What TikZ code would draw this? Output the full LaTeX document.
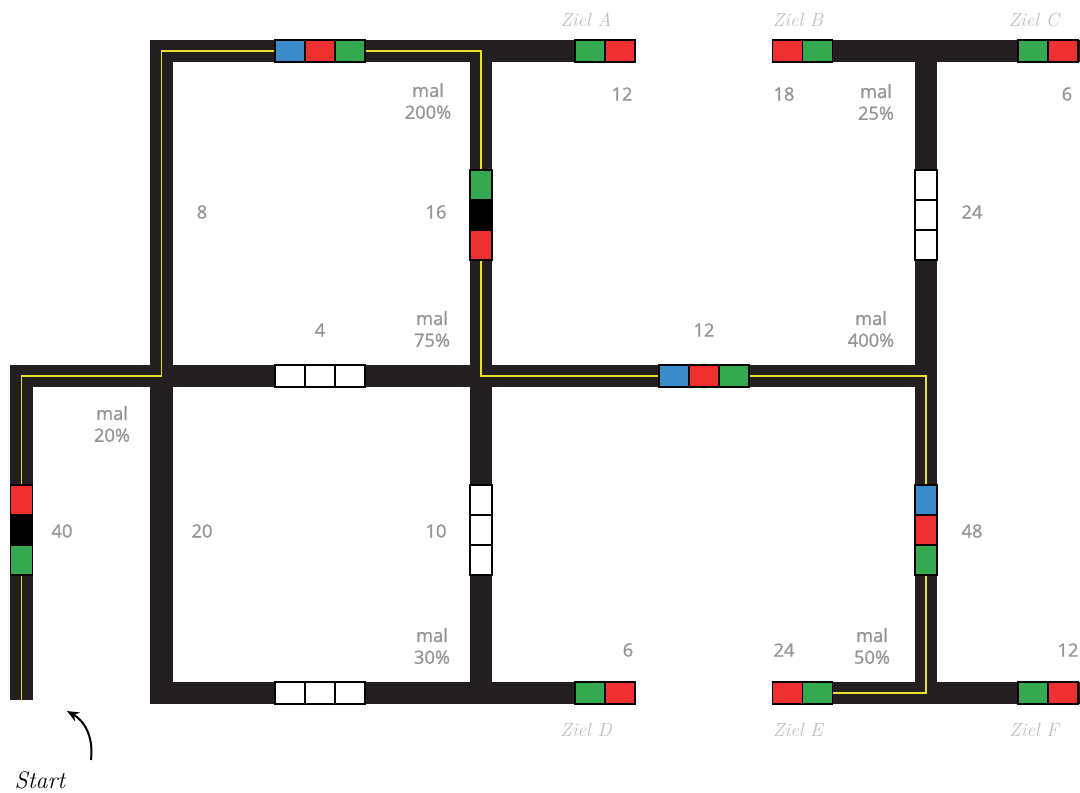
\documentclass[tikz,border=0pt]{standalone}
\usepackage{fontspec}
\IfFontExistsTF{Open Sans SemiBold}
  {\newfontfamily\numfont{Open Sans SemiBold}}
  {\newfontfamily\numfont{Open Sans}[FakeBold=1.2]}
\usetikzlibrary{positioning,arrows.meta}
\definecolor{road}{HTML}{231F20}
\definecolor{lane}{HTML}{E6E22A}
\definecolor{cblue}{HTML}{3B8BCB}
\definecolor{cred}{HTML}{EE3130}
\definecolor{cgreen}{HTML}{35A950}
\definecolor{txtgray}{HTML}{959595}
\definecolor{zielgray}{HTML}{BDBDBD}
\begin{document}
\begin{tikzpicture}[x=0.025cm, y=-0.025cm,
        roadline/.style={draw=road, line width=0.55cm, line join=miter},
        laneline/.style={draw=lane, line width=0.04cm, line join=miter},
        hbox/.style={rectangle, draw=black, line width=0.03cm, fill=#1, minimum width=0.75cm, minimum height=0.55cm, inner sep=0pt, outer sep=0pt},
        vbox/.style={rectangle, draw=black, line width=0.03cm, fill=#1, minimum width=0.55cm, minimum height=0.75cm, inner sep=0pt, outer sep=0pt},
        lbl/.style={text=txtgray, font=\numfont\fontsize{13}{15.5}\selectfont, align=center, inner sep=0pt},
        ziel/.style={text=zielgray, font=\itshape\fontsize{13.5}{15}\selectfont, inner sep=0pt}]

    \useasboundingbox (0,0) rectangle (1080,792);

    % junctions
    \coordinate (start) at (21.5,700);
    \coordinate (la) at (21.5,376);
    \coordinate (lb) at (161.5,376);
    \coordinate (lc) at (161.5,51);
    \coordinate (ld) at (481,51);
    \coordinate (le) at (481,376);
    \coordinate (lf) at (926,376);
    \coordinate (lg) at (926,693);
    \coordinate (lh) at (833,693);

    % roads
    \path [roadline] (start) -- (la) -- (lb);
    \path [roadline] (635,693) -- (161.5,693) -- (lc) -- (635,51);
    \path [roadline] (481,40) -- (481,704);
    \path [roadline] (lb) -- (937,376);
    \path [roadline] (772,51) -- (1080,51);
    \path [roadline] (926,40) -- (926,704);
    \path [roadline] (772,693) -- (1080,693);

    % lane of the route
    \path [laneline] (start) -- (la) -- (lb) -- (lc) -- (ld) -- (le) -- (lf) -- (lg) -- (lh);

    % colour fields, top row
    \node [hbox=cblue] (t1) at (290,51) {};
    \node [hbox=cred, right=0pt of t1] (t2) {};
    \node [hbox=cgreen, right=0pt of t2] (t3) {};
    \node [hbox=cgreen] (za1) at (590,51) {};
    \node [hbox=cred, right=0pt of za1] (za2) {};
    \node [hbox=cred] (zb1) at (787.5,51) {};
    \node [hbox=cgreen, right=0pt of zb1] (zb2) {};
    \node [hbox=cgreen] (zc1) at (1033,51) {};
    \node [hbox=cred, right=0pt of zc1] (zc2) {};

    % colour fields, upper verticals
    \node [vbox=cgreen] (m1) at (481,185) {};
    \node [vbox=black, below=0pt of m1] (m2) {};
    \node [vbox=cred, below=0pt of m2] (m3) {};
    \node [vbox=white] (r1) at (926,185) {};
    \node [vbox=white, below=0pt of r1] (r2) {};
    \node [vbox=white, below=0pt of r2] (r3) {};

    % colour fields, middle row
    \node [hbox=white] (c1) at (290,376) {};
    \node [hbox=white, right=0pt of c1] (c2) {};
    \node [hbox=white, right=0pt of c2] (c3) {};
    \node [hbox=cblue] (d1) at (674,376) {};
    \node [hbox=cred, right=0pt of d1] (d2) {};
    \node [hbox=cgreen, right=0pt of d2] (d3) {};

    % colour fields, lower verticals
    \node [vbox=cred] (s1) at (21.5,500) {};
    \node [vbox=black, below=0pt of s1] (s2) {};
    \node [vbox=cgreen, below=0pt of s2] (s3) {};
    \node [vbox=white] (n1) at (481,500) {};
    \node [vbox=white, below=0pt of n1] (n2) {};
    \node [vbox=white, below=0pt of n2] (n3) {};
    \node [vbox=cblue] (q1) at (926,500) {};
    \node [vbox=cred, below=0pt of q1] (q2) {};
    \node [vbox=cgreen, below=0pt of q2] (q3) {};

    % colour fields, bottom row
    \node [hbox=white] (b1) at (290,693) {};
    \node [hbox=white, right=0pt of b1] (b2) {};
    \node [hbox=white, right=0pt of b2] (b3) {};
    \node [hbox=cgreen] (zd1) at (590,693) {};
    \node [hbox=cred, right=0pt of zd1] (zd2) {};
    \node [hbox=cred] (ze1) at (787.5,693) {};
    \node [hbox=cgreen, right=0pt of ze1] (ze2) {};
    \node [hbox=cgreen] (zf1) at (1033,693) {};
    \node [hbox=cred, right=0pt of zf1] (zf2) {};

    % goals
    \node [ziel] (zielA) at (586,20) {Ziel A};
    \node [ziel] (zielB) at (798,20) {Ziel B};
    \node [ziel] (zielC) at (1034,20) {Ziel C};
    \node [ziel] (zielD) at (586,730) {Ziel D};
    \node [ziel] (zielE) at (798,730) {Ziel E};
    \node [ziel] (zielF) at (1034,730) {Ziel F};

    % values
    \node [lbl] (v12a) at (622,94) {12};
    \node [lbl] (v18) at (784,94) {18};
    \node [lbl] (v6a) at (1067,94) {6};
    \node [lbl] (f200) at (428,101) {mal\\200\%};
    \node [lbl] (f25) at (876,102) {mal\\25\%};
    \node [lbl] (v8) at (202,212) {8};
    \node [lbl] (v16) at (436,212) {16};
    \node [lbl] (v24a) at (972,212) {24};
    \node [lbl] (v4) at (320,330) {4};
    \node [lbl] (f75) at (432,329) {mal\\75\%};
    \node [lbl] (v12b) at (704,330) {12};
    \node [lbl] (f400) at (871,329) {mal\\400\%};
    \node [lbl] (f20) at (112,424) {mal\\20\%};
    \node [lbl] (v40) at (62,531) {40};
    \node [lbl] (v20) at (202,531) {20};
    \node [lbl] (v10) at (436,531) {10};
    \node [lbl] (v48) at (972,531) {48};
    \node [lbl] (f30) at (432,646) {mal\\30\%};
    \node [lbl] (v6b) at (628,650) {6};
    \node [lbl] (v24b) at (784,650) {24};
    \node [lbl] (f50) at (872,646) {mal\\50\%};
    \node [lbl] (v12c) at (1068,650) {12};

    % start
    \node [font=\itshape\fontsize{17}{19}\selectfont, inner sep=0pt] (startlbl) at (40,780) {Start};
    \coordinate (arrfoot) at (91,760);
    \coordinate (arrtip) at (67,711);
    \draw [-{Stealth[length=0.3cm,width=0.25cm]}, line width=0.05cm] (arrfoot) .. controls (94,735) and (83,720) .. (arrtip);
\end{tikzpicture}
\end{document}
